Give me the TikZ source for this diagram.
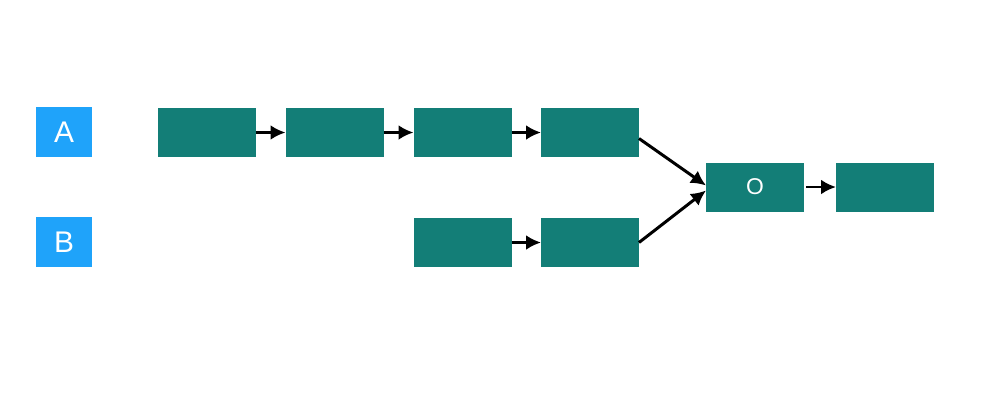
\documentclass[tikz,border=0pt]{standalone}
\usepackage{fontspec}
\setmainfont{Liberation Sans}
\usetikzlibrary{arrows.meta}
\definecolor{labelblue}{HTML}{1FA3FA}
\definecolor{stepteal}{HTML}{137E77}
\tikzset{
    lanebox/.style={fill=labelblue, text=white, minimum width=1.12cm, minimum height=1cm, inner sep=0pt, outer sep=0pt, font=\fontsize{17}{19}\selectfont},
    stepbox/.style={fill=stepteal, text=white, minimum width=1.96cm, minimum height=0.98cm, inner sep=0pt, outer sep=0pt, font=\fontsize{13}{15}\selectfont},
    flow/.style={line width=1.7pt, -{Latex[length=8.5pt,width=8.5pt]}}
}
\begin{document}
\begin{tikzpicture}
    \useasboundingbox (0,0) rectangle (20,8.36);

    % Lane labels
    \node[lanebox] (la) at (1.28, 5.72) {A};
    \node[lanebox] (lb) at (1.28, 3.52) {B};

    % Row A
    \node[stepbox] (a1) at (4.13, 5.71) {};
    \node[stepbox] (a2) at (6.69, 5.71) {};
    \node[stepbox] (a3) at (9.25, 5.71) {};
    \node[stepbox] (a4) at (11.8, 5.71) {};
    \draw[flow] (a1) -- (a2);
    \draw[flow] (a2) -- (a3);
    \draw[flow] (a3) -- (a4);

    % Row B
    \node[stepbox] (b1) at (9.25, 3.51) {};
    \node[stepbox] (b2) at (11.8, 3.51) {};
    \draw[flow] (b1) -- (b2);

    % Merge
    \node[stepbox] (o) at (15.1, 4.62) {O};
    \node[stepbox] (out) at (17.7, 4.62) {};
    \draw[flow] ([yshift=-0.12cm]a4.east) -- ([yshift=0.03cm]o.west);
    \draw[flow] (b2.east) -- ([yshift=-0.07cm]o.west);
    \draw[flow] ([xshift=0.04cm]o.east) -- (out);
\end{tikzpicture}
\end{document}
